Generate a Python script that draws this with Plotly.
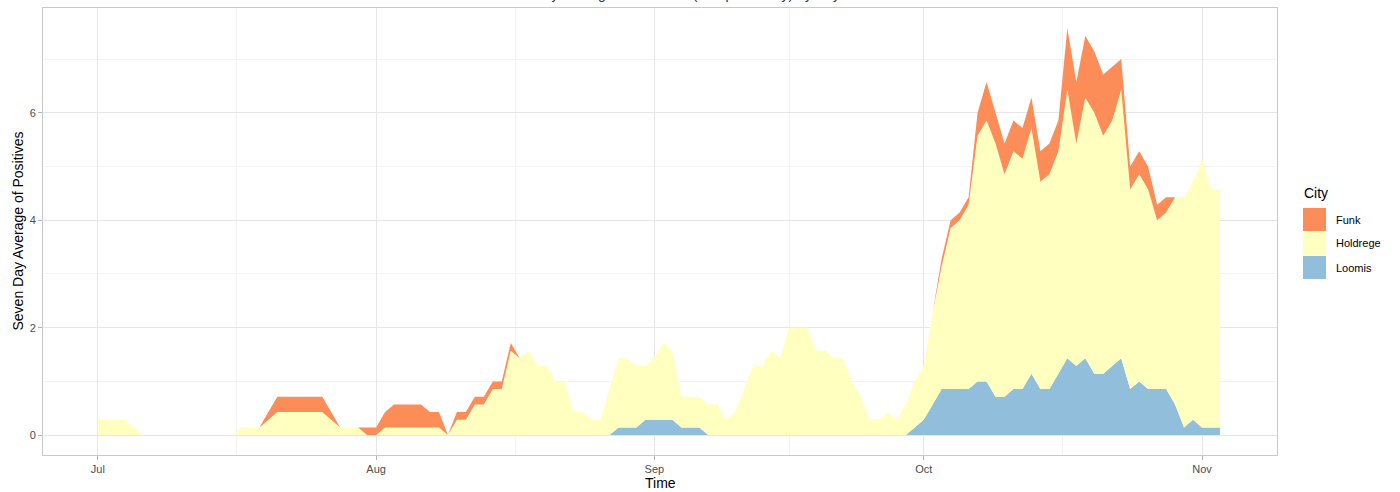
import pandas as pd
import plotly.graph_objects as go

# ---------------- data ----------------
start_date = "2020-07-01"
n_days = 126
dates = pd.date_range(start_date, periods=n_days, freq="D")

# weekly positive counts (seven day average = weekly count / 7)
funk_week = [0]*19 + [1, 2, 2, 2, 2, 2, 2, 1, 0, 0, 0, 1, 1, 2, 3, 3, 3, 3, 2, 2, 0,
             1, 1, 1, 1, 1, 1, 1] + [0]*47 + [1, 1, 1, 1, 3, 5, 4, 4, 4, 4, 4, 4, 4, 4,
             8, 8, 8, 8, 8, 7, 4, 3, 3, 3, 2, 2] + [0]*6

holdrege_plus_loomis_week = [
    2, 2, 2, 2, 1, 0, 0, 0, 0, 0, 0, 0, 0, 0, 0, 0,
    1, 1, 1, 2, 3, 3, 3, 3, 3, 3, 2, 1, 1, 1, 0, 0,
    1, 1, 1, 1, 1, 1, 1, 0, 2, 2, 4, 4, 6, 6, 11, 10,
    11, 9, 9, 7, 7, 3, 3, 2, 2, 6, 10, 10, 9, 9, 10, 12,
    11, 5, 5, 5, 4, 4, 2, 3, 6, 9, 9, 11, 10, 14, 14, 14,
    11, 11, 10, 10, 7, 5, 2, 2, 3, 2, 4, 7, 9, 16, 22, 27,
    28, 30, 39, 41, 38, 34, 37, 36, 40, 33, 34, 37, 45, 38, 44, 42,
    39, 41, 45, 32, 34, 32, 28, 29, 31, 31, 33, 36, 32, 32]

loomis_week = [0]*58 + [1, 1, 1, 2, 2, 2, 2, 1, 1, 1] + [0]*23 + [
    1, 2, 4, 6, 6, 6, 6, 7, 7, 5, 5, 6, 6, 8, 6, 6, 8, 10, 9, 10, 8, 8, 9, 10,
    6, 7, 6, 6, 6, 4, 1, 2, 1, 1, 1]

funk = [v / 7 for v in funk_week]
loomis = [v / 7 for v in loomis_week]
holdrege = [(t - l) / 7 for t, l in zip(holdrege_plus_loomis_week, loomis_week)]

cities = ["Funk", "Holdrege", "Loomis"]
colors = {"Funk": "#FC8D59", "Holdrege": "#FFFFBF", "Loomis": "#91BFDB"}
series = {"Funk": funk, "Holdrege": holdrege, "Loomis": loomis}

x_ticks = ["2020-07-01", "2020-08-01", "2020-09-01", "2020-10-01", "2020-11-01"]
x_ticklabels = ["Jul", "Aug", "Sep", "Oct", "Nov"]
x_minor = ["2020-07-16 12:00", "2020-08-16 12:00", "2020-09-16", "2020-10-16 12:00"]
y_ticks = [0, 2, 4, 6]
y_minor = [1, 3, 5, 7]

# ---------------- layout geometry ----------------
W, H = 1400, 492
L, R, T, B = 43, 1277, 8, 455


def pxx(px):
    return (px - L) / (R - L)


def pxy(py):
    return (B - py) / (B - T)


fig = go.Figure()
for city in ["Loomis", "Holdrege", "Funk"]:
    fig.add_trace(go.Scatter(
        x=dates, y=series[city], name=city, mode="none",
        stackgroup="one", fillcolor=colors[city], showlegend=False,
        line=dict(width=0),
    ))

grid_major = "#E6E6E6"
grid_minor = "#F3F3F3"
border = "#C9C9C9"
tickfont = dict(family="Liberation Sans, Arial, sans-serif", size=11, color="#4D4D4D")

fig.update_layout(
    width=W, height=H,
    margin=dict(l=L, r=W - R, t=T, b=H - B, autoexpand=False),
    paper_bgcolor="white", plot_bgcolor="white",
    font=dict(family="Liberation Sans, Arial, sans-serif"),
    showlegend=False,
)
fig.update_xaxes(
    range=["2020-06-24 21:30", "2020-11-09 08:30"],
    tickmode="array", tickvals=x_ticks, ticktext=x_ticklabels,
    tickfont=tickfont, ticks="outside", ticklen=4, tickcolor="#B3B3B3",
    showgrid=True, gridcolor=grid_major, gridwidth=1,
    minor=dict(tickmode="array", tickvals=x_minor, showgrid=True,
               gridcolor=grid_minor, gridwidth=1, ticklen=0),
    showline=True, linecolor=border, linewidth=1, mirror=True,
    zeroline=False,
)
fig.update_yaxes(
    range=[-0.37, 7.95],
    tickmode="array", tickvals=y_ticks,
    tickfont=tickfont, ticks="outside", ticklen=4, tickcolor="#B3B3B3",
    showgrid=True, gridcolor=grid_major, gridwidth=1,
    minor=dict(tickmode="array", tickvals=y_minor, showgrid=True,
               gridcolor=grid_minor, gridwidth=1, ticklen=0),
    showline=True, linecolor=border, linewidth=1, mirror=True,
    zeroline=False,
)

annotations = [
    dict(text="Seven Day Average of Positives", x=pxx(17), y=pxy(231.5),
         xref="paper", yref="paper", showarrow=False, textangle=-90,
         font=dict(size=14, color="black"), xanchor="center", yanchor="middle"),
    dict(text="Time", x=pxx(660), y=pxy(483), xref="paper", yref="paper",
         showarrow=False, font=dict(size=14, color="black"),
         xanchor="center", yanchor="middle"),
    dict(text="Seven Day Average of Positives (Phelps County) by City",
         x=pxx(665), y=pxy(3.5), xref="paper", yref="paper", showarrow=False,
         font=dict(size=14, color="#333333"), xanchor="center", yanchor="bottom"),
    dict(text="City", x=pxx(1302), y=pxy(193), xref="paper", yref="paper",
         showarrow=False, font=dict(size=14, color="black"),
         xanchor="left", yanchor="middle"),
]
shapes = []
key_top = 208
for i, city in enumerate(cities):
    y0 = key_top + i * 24
    shapes.append(dict(type="rect", xref="paper", yref="paper",
                       x0=pxx(1303), x1=pxx(1326), y0=pxy(y0 + 23), y1=pxy(y0),
                       fillcolor=colors[city], line=dict(width=0), layer="above"))
    annotations.append(dict(text=city, x=pxx(1334), y=pxy(y0 + 11.5),
                            xref="paper", yref="paper", showarrow=False,
                            font=dict(size=11, color="black"),
                            xanchor="left", yanchor="middle"))

fig.update_layout(annotations=annotations, shapes=shapes)
fig.write_html(
    "out.html",
    config={"displayModeBar": False},
    post_script="document.body.style.margin='0';document.body.style.overflow='hidden';",
)
